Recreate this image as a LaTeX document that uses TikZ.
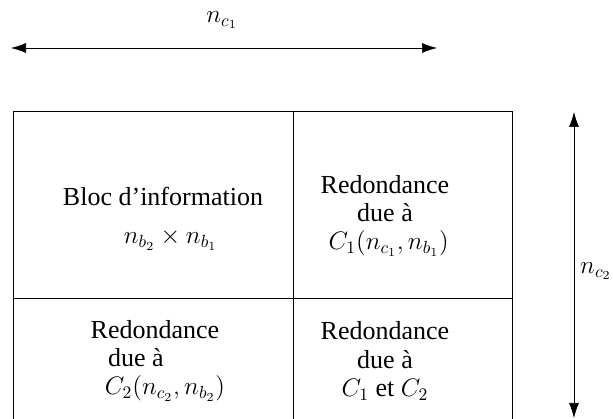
\documentclass[tikz,border=0pt]{standalone}
\usepackage[no-math]{fontspec}
\setmainfont{Liberation Serif}
\usetikzlibrary{positioning}
\usetikzlibrary{arrows.meta}

\tikzset{
  cell/.style={align=center, font=\fontsize{14.8}{16}\selectfont, inner sep=0pt},
  dim/.style={{Latex[length=0.3cm,width=0.2cm]}-{Latex[length=0.3cm,width=0.2cm]}, thin},
}

\begin{document}
\begin{tikzpicture}
\useasboundingbox (0,0) rectangle (12.26,8.38);
\clip (0,0) rectangle (12.26,8.38);

% tableau
\draw[thin] (0.26,-0.2) -- (0.26,6.16) -- (10.24,6.16) -- (10.24,-0.2);
\draw[thin] (5.86,-0.2) -- (5.86,6.16);
\draw[thin] (0.26,2.42) -- (10.24,2.42);

\node[cell] (info) at (3.26,4.0) {Bloc d'information\\[0.2cm] \hspace{0.3cm}$n_{b_2}\times n_{b_1}$};
\node[cell] (red1) at (7.7,4.06) {Redondance\\ due à\\ \hspace{0.15cm}$C_1(n_{c_1},n_{b_1})$};
\node[cell] (red2) at (3.1,1.16) {Redondance\\ \hspace{-0.76cm}due à\\ \hspace{0.4cm}$C_2(n_{c_2},n_{b_2})$};
\node[cell] (red12) at (7.7,1.16) {Redondance\\ due à\\ $C_1$ et $C_2$};

% dimensions
\coordinate (h1) at (0.22,7.42);
\coordinate (h2) at (8.74,7.42);
\coordinate (v1) at (11.48,6.14);
\coordinate (v2) at (11.48,0.02);
\draw[dim] (h1) -- (h2);
\draw[dim] (v1) -- (v2) node[pos=0.52,right,font=\fontsize{14.8}{16}\selectfont] (nc2) {$n_{c_2}$};
\node[font=\fontsize{14.8}{16}\selectfont] (nc1) at (4.44,7.98) {$n_{c_1}$};

\end{tikzpicture}
\end{document}
